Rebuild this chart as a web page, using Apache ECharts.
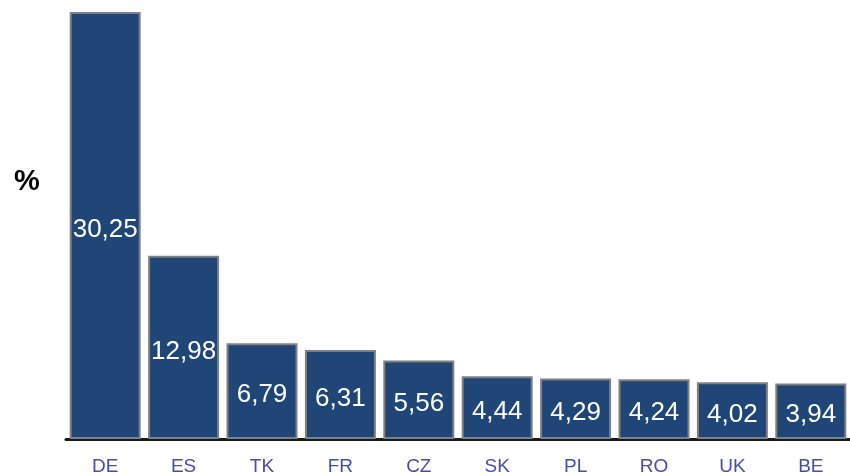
<!DOCTYPE html>
<html>
<head>
<meta charset="utf-8">
<script src="https://cdn.jsdelivr.net/npm/echarts@6/dist/echarts.min.js"></script>
<style>
  html, body { margin: 0; padding: 0; background: #fff; }
  #chart { width: 850px; height: 476px; }
</style>
</head>
<body>
<div id="chart"></div>
<script>
// 国家 / 份额
const categories = ['DE', 'ES', 'TK', 'FR', 'CZ', 'SK', 'PL', 'RO', 'UK', 'BE']
const shares = [30.25, 12.98, 6.79, 6.31, 5.56, 4.44, 4.29, 4.24, 4.02, 3.94]

const chart = echarts.init(document.getElementById('chart'))
const option = {
  animation: false,
  grid: { left: 66, right: 0, top: 12, bottom: 36 },
  graphic: [
    {
      type: 'text',
      left: 14,
      top: 167,
      style: { text: '%', fontSize: 29, fontWeight: 'bold', fill: '#000', fontFamily: 'Liberation Sans, Arial' }
    }
  ],
  xAxis: {
    type: 'category',
    data: categories,
    axisLine: { show: true, lineStyle: { color: '#1a1a1a', width: 3 } },
    axisTick: { show: false },
    axisLabel: { color: '#4b4ba8', fontSize: 19, margin: 18, fontFamily: 'Liberation Sans, Arial' }
  },
  yAxis: {
    type: 'value',
    min: 0,
    max: 30.25,
    show: false,
    splitLine: { show: false }
  },
  series: [
    {
      type: 'bar',
      data: shares,
      barWidth: 71,
      itemStyle: { color: '#1f4677', borderColor: '#808080', borderWidth: 2 },
      label: {
        show: true,
        position: 'inside',
        offset: [0, 4],
        color: '#fff',
        fontSize: 26,
        fontFamily: 'Liberation Sans, Arial',
        formatter: p => p.value.toFixed(2).replace('.', ',')
      }
    }
  ]
}
chart.setOption(option)
</script>
</body>
</html>
